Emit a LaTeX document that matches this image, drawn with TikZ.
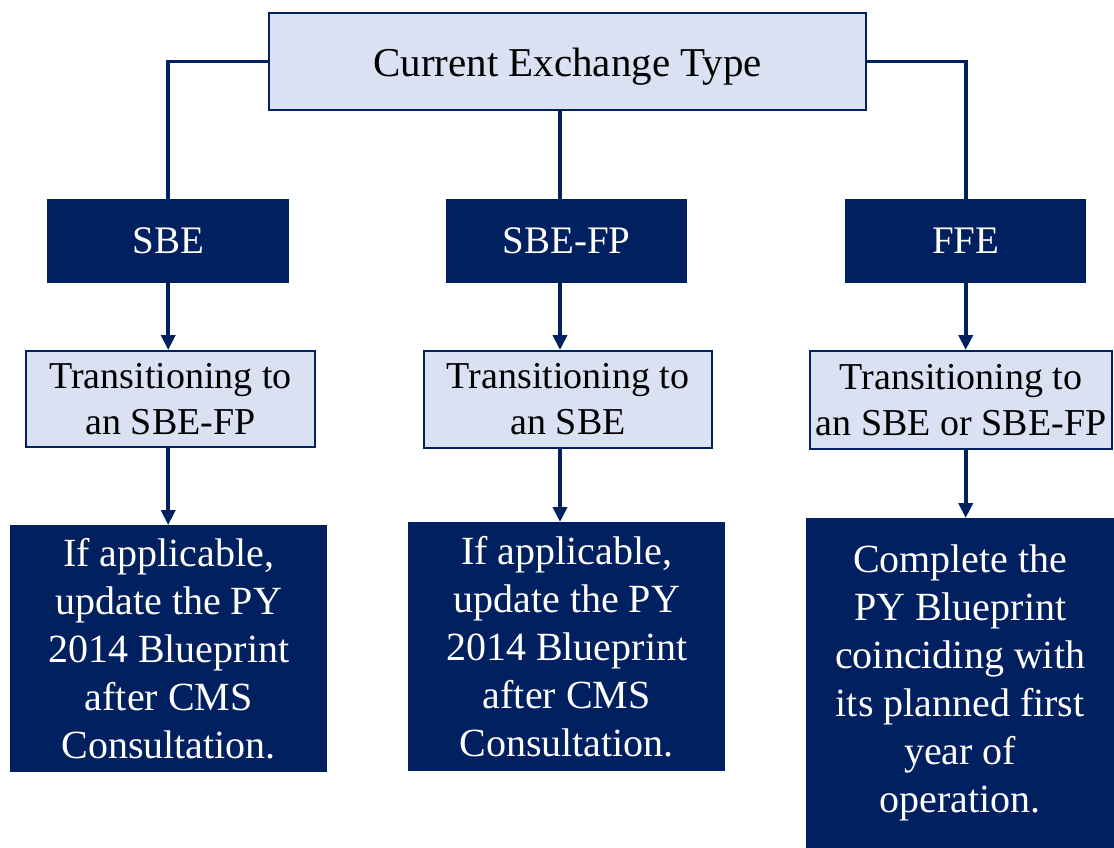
\documentclass[tikz,border=0pt]{standalone}
\usepackage{fontspec}
\setmainfont{Liberation Serif}
\usetikzlibrary{arrows.meta}
\definecolor{navy}{HTML}{002060}
\definecolor{paleblue}{HTML}{DAE1F2}
\tikzset{lightbox/.style={draw=navy, line width=2.2pt, fill=paleblue, inner sep=0pt, anchor=north west, align=center, font=\fontsize{38}{46}\selectfont},
% dark boxes have no border
darkbox/.style={fill=navy, text=white, inner sep=0pt, anchor=north west, align=center, font=\fontsize{40}{48}\selectfont},
link/.style={navy, line width=3.6pt},
arrow/.style={link, -{Triangle[length=15pt,width=14pt]}}}

\begin{document}
\begin{tikzpicture}[x=1pt,y=-1pt]
\useasboundingbox (0,0) rectangle (1114,848);
\coordinate (mid) at (560,0);

% top
\node[lightbox, minimum width=597pt, minimum height=97pt, text height=38pt, text depth=9pt, font=\fontsize{41}{46}\selectfont] (type) at (268,12) {Current Exchange Type};

% exchange types
\node[darkbox, minimum width=242pt, minimum height=84pt, font=\fontsize{39}{46}\selectfont] (sbe) at (47,199) {SBE};
\node[darkbox, minimum width=241pt, minimum height=84pt, font=\fontsize{39}{46}\selectfont] (sbefp) at (446,199) {SBE-FP};
\node[darkbox, minimum width=241pt, minimum height=84pt, font=\fontsize{39}{46}\selectfont] (ffe) at (845,199) {FFE};

% transitions
\node[lightbox, minimum width=289pt, minimum height=96pt] (trans1) at (25,350) {Transitioning to\\ an SBE-FP};
\node[lightbox, minimum width=288pt, minimum height=97pt] (trans2) at (423,350) {Transitioning to\\ an SBE};
\node[lightbox, minimum width=302pt, minimum height=98pt] (trans3) at (809,350) {Transitioning to\\ an SBE or SBE-FP};

% actions
\node[darkbox, minimum width=317pt, minimum height=247pt] (act1) at (10,525) {If applicable,\\ update the PY\\ 2014 Blueprint\\ after CMS\\ Consultation.};
\node[darkbox, minimum width=317pt, minimum height=249pt] (act2) at (408,522) {If applicable,\\ update the PY\\ 2014 Blueprint\\ after CMS\\ Consultation.};
\node[darkbox, minimum width=308pt, minimum height=330pt] (act3) at (806,518) {Complete the\\ PY Blueprint\\ coinciding with\\ its planned first\\ year of\\ operation.};

% links from the top box
\draw[link] (type.west) -| (sbe.north);
\draw[link] (type.east) -| (ffe.north);
\draw[link] (type.south -| mid) -- (sbefp.north -| mid);

% arrows down each column
\draw[arrow] (sbe.south) -- (sbe.south |- trans1.north);
\draw[arrow] (trans1.south -| sbe.south) -- (sbe.south |- act1.north);
\draw[arrow] (sbefp.south -| mid) -- (trans2.north -| mid);
\draw[arrow] (trans2.south -| mid) -- (act2.north -| mid);
\draw[arrow] (ffe.south) -- (ffe.south |- trans3.north);
\draw[arrow] (trans3.south -| ffe.south) -- (ffe.south |- act3.north);
\end{tikzpicture}
\end{document}
